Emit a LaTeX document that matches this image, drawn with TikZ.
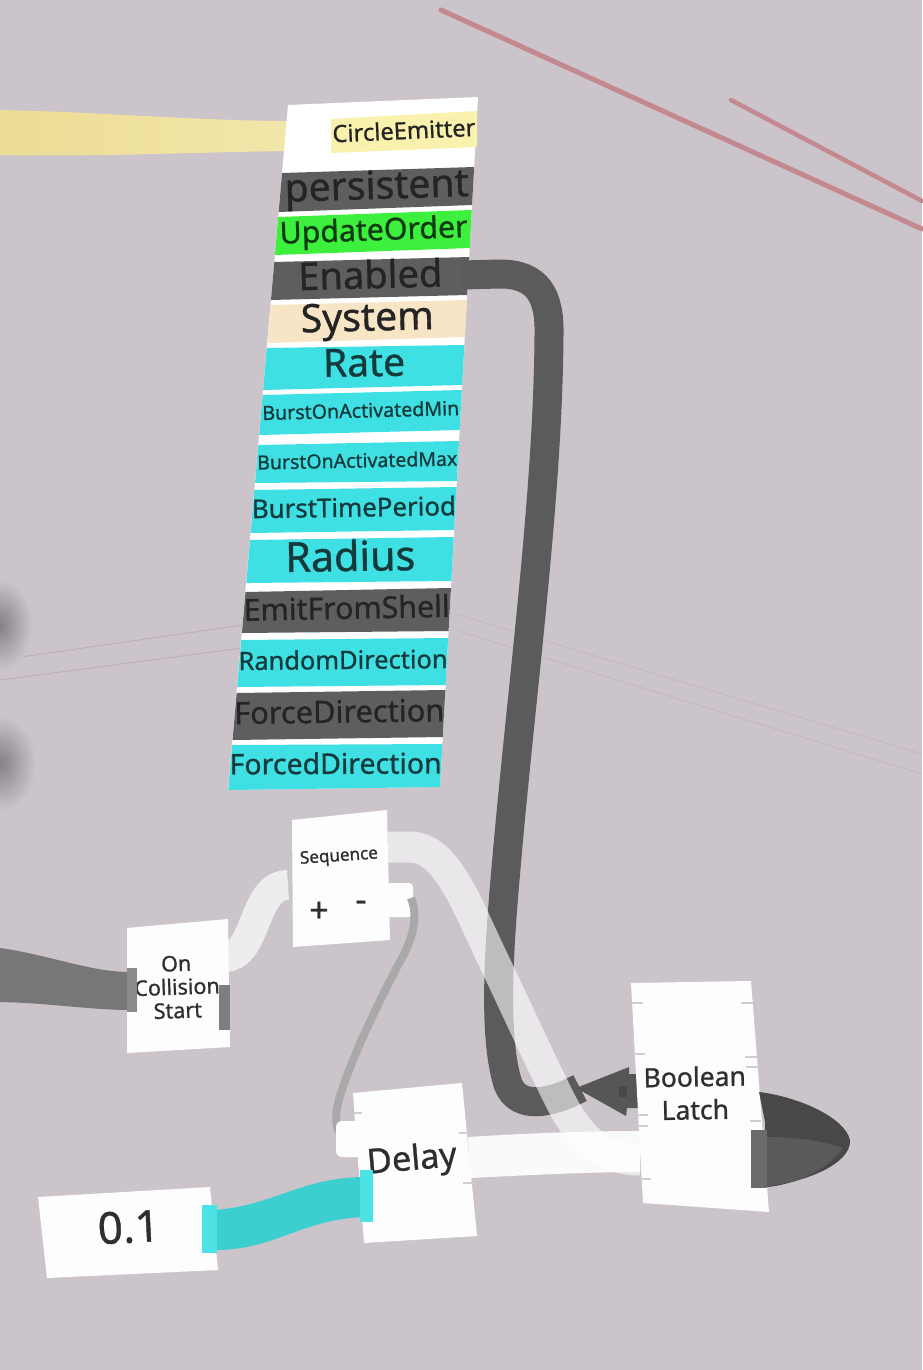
\documentclass[tikz,border=0pt]{standalone}
\usepackage{fontspec}
\setmainfont[FakeBold=0.9]{Noto Sans}
\usepackage{graphicx}
\definecolor{bg}{HTML}{CCC4CB}
\definecolor{rowgrey}{HTML}{5E5E5E}
\definecolor{rowgreen}{HTML}{3EF03E}
\definecolor{rowbeige}{HTML}{F8E5C6}
\definecolor{rowcyan}{HTML}{3FE0E3}
\definecolor{txtdark}{HTML}{242424}
\definecolor{txtcyan}{HTML}{143A3C}
\definecolor{txtgreen}{HTML}{0E3A12}
\definecolor{labelyellow}{HTML}{F9F2AE}
\definecolor{bandyellowA}{HTML}{EDDC95}
\definecolor{bandyellowB}{HTML}{F2E6AA}
\definecolor{cablegrey}{HTML}{5B5B5B}
\definecolor{pinkline}{HTML}{C4898F}
\definecolor{faintline}{HTML}{C2AEBB}
\definecolor{wirecyan}{HTML}{3CCFD0}
\definecolor{stubcyan}{HTML}{4BE3E4}
\definecolor{leftwire}{HTML}{777777}
\definecolor{leftstub}{HTML}{8A8A8A}
\definecolor{tickc}{HTML}{CFCFCF}
\definecolor{nodetext}{HTML}{2E2E2E}
\definecolor{wirewhite}{HTML}{EDEDED}
\definecolor{thinwire}{HTML}{A9A9A9}
\definecolor{loopdark}{HTML}{484848}
\definecolor{loopmid}{HTML}{5A5A5A}
\definecolor{blobc}{HTML}{858085}
\definecolor{boxwhite}{HTML}{FDFDFD}

\tikzset{
  boxfill/.style={fill=boxwhite},
  cable/.style={draw=cablegrey,line width=29pt},
  whitewire/.style={draw=wirewhite,line width=30pt},
  glasswire/.style={draw=white,draw opacity=0.6,line width=31pt},
  greywire/.style={draw=thinwire,line width=8pt},
  tickline/.style={draw=tickc,line width=1.5pt},
  nodelabel/.style={inner sep=0pt,text=nodetext},
  pinkstroke/.style={draw=pinkline,line width=5pt,line cap=round},
  faintstroke/.style={draw=faintline,line width=1pt},
}

\newcommand\prow[9]{%
  \pgfmathsetmacro\xtl{288-0.0873*(#1-105)}%
  \pgfmathsetmacro\xbl{288-0.0873*(#2-105)}%
  \pgfmathsetmacro\xtr{478-0.0551*(#3-97)}%
  \pgfmathsetmacro\xbr{478-0.0551*(#4-97)}%
  \pgfmathsetmacro\xc{(\xtl+\xbl+\xtr+\xbr)/4}%
  \pgfmathsetmacro\yc{(#1+#2+#3+#4)/4}%
  \pgfmathsetmacro\rot{atan2(#1-#3,\xtr-\xtl)}%
  \fill[#5] (\xtl,#1) -- (\xtr,#3) -- (\xbr,#4) -- (\xbl,#2) -- cycle;
  \node[inner sep=0pt,text=#6,rotate=\rot] (#9) at (\xc,\yc) {\resizebox{#7pt}{!}{\vphantom{Ap}#8}};
}

\begin{document}
\begin{tikzpicture}[x=1pt,y=-1pt]
\useasboundingbox (0,0) rectangle (922,1370);
\fill[bg] (0,0) rectangle (922,1370);

% background lines
\draw[pinkstroke] (441,10) -- (922,229);
\draw[pinkstroke,line width=4.5pt] (731,100) -- (922,201);
\draw[faintstroke] (0,660) -- (250,624);
\draw[faintstroke] (0,680) -- (250,647);
\draw[faintstroke,opacity=0.6] (455,614) -- (922,754);
\draw[faintstroke,opacity=0.6] (458,631) -- (922,774);

% blurred blobs at left edge
\shade[inner color=blobc,outer color=bg] (0,625) ellipse [x radius=32,y radius=46];
\shade[inner color=blobc,outer color=bg] (0,763) ellipse [x radius=36,y radius=48];

% yellow band into the panel
\shade[left color=bandyellowA,right color=bandyellowB] (0,110) .. controls (100,112) and (200,121) .. (292,121) -- (292,151) .. controls (200,152) and (100,157) .. (0,155) -- cycle;

% main panel
\fill[white] (288,105) -- (478,97) -- (440,787) -- (228,790) -- cycle;
\fill[labelyellow] (331,119) -- (477,111) -- (477,147) -- (331,153) -- cycle;
\node[inner sep=0pt,text=txtdark,rotate=2.6] (ce) at (404,133) {\resizebox{143pt}{!}{\vphantom{Ap}CircleEmitter}};

\prow{173}{212}{167}{205}{rowgrey}{txtdark}{184}{persistent}{r1}
\prow{217}{255}{210}{248}{rowgreen}{txtgreen}{188}{UpdateOrder}{r2}
\prow{262}{300}{257}{295}{rowgrey}{txtdark}{144}{Enabled}{r3}
\prow{305}{343}{300}{337}{rowbeige}{txtdark}{133}{System}{r4}
\prow{348}{390}{345}{385}{rowcyan}{txtcyan}{82}{Rate}{r5}
\prow{395}{435}{390}{430}{rowcyan}{txtcyan}{197}{BurstOnActivatedMin}{r6}
\prow{445}{483}{441}{481}{rowcyan}{txtcyan}{200}{BurstOnActivatedMax}{r7}
\prow{490}{533}{487}{530}{rowcyan}{txtcyan}{204}{BurstTimePeriod}{r8}
\prow{540}{583}{537}{581}{rowcyan}{txtcyan}{130}{Radius}{r9}
\prow{592}{633}{588}{631}{rowgrey}{txtdark}{206}{EmitFromShell}{r10}
\prow{640}{687}{638}{685}{rowcyan}{txtcyan}{209}{RandomDirection}{r11}
\prow{693}{740}{690}{737}{rowgrey}{txtdark}{210}{ForceDirection}{r12}
\prow{745}{790}{744}{787}{rowcyan}{txtcyan}{212}{ForcedDirection}{r13}

% connection points
\coordinate (enOut) at (462,275);
\coordinate (latchIn) at (580,1088);
\coordinate (ocIn) at (127,990);
\coordinate (ocOut) at (224,957);
\coordinate (seqIn) at (288,885);
\coordinate (seqOut) at (388,847);
\coordinate (seqMinus) at (411,898);
\coordinate (delayIn) at (348,1140);
\coordinate (delayOut) at (470,1157);
\coordinate (latchIn2) at (640,1160);
\coordinate (valOut) at (215,1230);
\coordinate (delayVal) at (362,1197);

% Enabled cable down to Boolean Latch
\draw[cable] (enOut) -- (500,274) .. controls (538,274) and (550,296) .. (549,335)
  .. controls (548,500) and (520,700) .. (505,880)
  .. controls (498,960) and (494,1040) .. (508,1084)
  .. controls (518,1110) and (550,1104) .. (latchIn);
\fill[cablegrey!95!black] (576,1088) -- (629,1067) -- (629,1074) -- (640,1074) -- (640,1108) -- (627,1108) -- (626,1116) -- cycle;
\fill[loopdark] (619,1086) rectangle (627,1097);

% left input wire of On Collision Start
\fill[leftwire] (0,948) .. controls (50,955) and (90,972) .. (130,972) -- (130,1010) .. controls (90,1010) and (50,1003) .. (0,1002) -- cycle;

% white wire On Collision -> Sequence
\draw[whitewire] (ocOut) .. controls (258,957) and (252,885) .. (seqIn);

% On Collision Start node
\fill[boxfill] (127,928) -- (228,919) -- (230,1047) -- (127,1053) -- cycle;
\node[nodelabel,align=center,font=\fontsize{21.5}{23.5}\selectfont,rotate=2] (oc) at (177,987) {On\\Collision\\Start};
\fill[leftstub] (127,968) rectangle (137,1012);
\fill[leftwire!95!white] (219,985) rectangle (230,1030);

% Sequence node
\fill[boxfill] (292,820) -- (387,810) -- (390,940) -- (293,947) -- cycle;
\node[inner sep=0pt,text=nodetext,rotate=4] (seq) at (339,857) {\resizebox{78pt}{!}{\vphantom{Ap}Sequence}};
\node[nodelabel,font=\fontsize{34}{34}\selectfont] (plus) at (319,912) {+};
\node[nodelabel,font=\fontsize{34}{34}\selectfont] (minus) at (361,906) {-};
\fill[boxfill,rounded corners=4pt] (386,883) rectangle (413,917);

% thin grey wire Sequence(-) -> Delay
\draw[greywire] (seqMinus) .. controls (420,920) and (410,945) .. (398,965)
  .. controls (380,1000) and (355,1050) .. (342,1090)
  .. controls (333,1115) and (334,1134) .. (delayIn);
\fill[boxfill,rounded corners=6pt] (336,1121) rectangle (362,1157);

% Delay -> Boolean Latch wire
\fill[white!96!gray] (468,1137) .. controls (530,1133) and (590,1131) .. (640,1131) -- (640,1172) .. controls (590,1172) and (530,1175) .. (470,1178) -- cycle;

% translucent wire Sequence(top) -> Boolean Latch
\draw[glasswire] (seqOut) -- (410,847) .. controls (445,847) and (465,900) .. (490,953)
  .. controls (515,1005) and (535,1050) .. (560,1100)
  .. controls (580,1140) and (605,1160) .. (latchIn2);

% Delay node
\fill[boxfill] (353,1093) -- (462,1083) -- (477,1236) -- (364,1243) -- cycle;
\node[inner sep=0pt,text=nodetext,rotate=5] (delay) at (412,1161) {\resizebox{90pt}{!}{\vphantom{Ap}Delay}};
\draw[tickline] (354,1113) -- (362,1113);
\draw[tickline] (459,1133) -- (470,1133);
\draw[tickline] (463,1183) -- (474,1183);

% value node 0.1 and cyan wire
\fill[boxfill] (38,1197) -- (210,1187) -- (218,1270) -- (47,1278) -- cycle;
\node[inner sep=0pt,text=nodetext,rotate=3] (val) at (129,1232) {\resizebox{62pt}{!}{\vphantom{Ap}0.1}};
\fill[wirecyan] (valOut) ++(0,-20) .. controls (275,1205) and (300,1178) .. (363,1177) -- (363,1217) .. controls (300,1220) and (275,1250) .. (215,1250) -- cycle;
\fill[stubcyan] (202,1205) rectangle (217,1253);
\fill[stubcyan] (360,1170) rectangle (373,1222);

% Boolean Latch node
\fill[boxfill] (631,983) -- (751,981) -- (769,1212) -- (643,1203) -- cycle;
\node[nodelabel,align=center,font=\fontsize{26.5}{33}\selectfont,rotate=1] (latch) at (695,1093) {Boolean\\Latch};
\draw[tickline] (632,1003) -- (643,1003);
\draw[tickline] (634,1054) -- (645,1054);
\draw[tickline] (637,1115) -- (648,1115);
\draw[tickline] (637,1126) -- (648,1126);
\draw[tickline] (640,1179) -- (651,1179);
\draw[tickline] (741,1003) -- (753,1003);
\draw[tickline] (745,1057) -- (757,1057);
\draw[tickline] (746,1067) -- (758,1067);
\draw[tickline] (750,1121) -- (761,1121);

% output loop on the right of Boolean Latch
\fill[loopdark] (759,1092) .. controls (800,1097) and (845,1118) .. (850,1140) .. controls (851,1156) and (830,1170) .. (805,1178) .. controls (790,1183) and (775,1187) .. (765,1187) -- (765,1122) -- cycle;
\fill[loopmid] (765,1137) .. controls (800,1137) and (828,1142) .. (843,1148) .. controls (833,1162) and (815,1174) .. (795,1181) -- (765,1187) -- cycle;
\fill[leftwire!90!black] (751,1130) rectangle (767,1188);
\end{tikzpicture}
\end{document}
